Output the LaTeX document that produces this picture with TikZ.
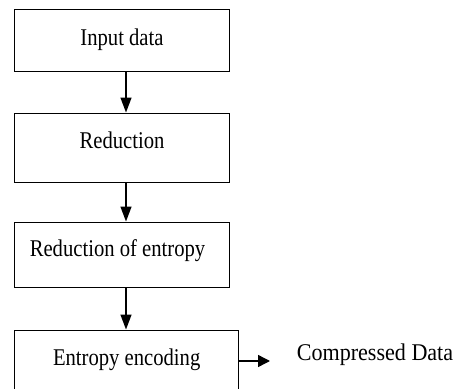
\documentclass[tikz,border=0pt]{standalone}
\usepackage{fontspec}
\setmainfont{Liberation Serif}
\usetikzlibrary{arrows.meta}
\begin{document}
\begin{tikzpicture}[x=1pt,y=-1pt,
  box/.style={draw=black, line width=1pt, inner sep=0pt},
  lbl/.style={anchor=base, inner sep=0pt, font=\fontsize{24}{28}\selectfont},
  arr/.style={line width=1.4pt, -{Triangle[length=15pt,width=11pt]}},
  harr/.style={line width=1.4pt, -{Triangle[length=12pt,width=12pt]}}]
\useasboundingbox (0,0) rectangle (459,389);
\clip (0,0) rectangle (459,389);
\node[box, minimum width=214.5pt, minimum height=62pt] (b1) at (121.75,40.5) {};
\node[box, minimum width=214.5pt, minimum height=69pt] (b2) at (121.75,147.5) {};
\node[box, minimum width=214.5pt, minimum height=65pt] (b3) at (121.75,254.5) {};
\node[box, minimum width=223.5pt, minimum height=70pt] (b4) at (126.25,365) {};
\node[lbl] (t1) at (122,45) {\scalebox{0.86}[1]{Input data}};
\node[lbl] (t2) at (122,148.3) {\scalebox{0.86}[1]{Reduction}};
\node[lbl] (t3) at (117.5,256.7) {\scalebox{0.86}[1]{Reduction of entropy}};
\node[lbl] (t4) at (126.7,365) {\scalebox{0.86}[1]{Entropy encoding}};
\node[lbl] (out) at (375,360) {\scalebox{0.92}[1]{Compressed Data}};
\coordinate (ax) at (126,0);
\coordinate (ce) at (270,361);
\draw[arr] (b1.south -| ax) -- (b2.north -| ax);
\draw[arr] (b2.south -| ax) -- (b3.north -| ax);
\draw[arr] (b3.south -| ax) -- (b4.north -| ax);
\draw[harr] (b4.east |- ce) -- (ce);
\end{tikzpicture}
\end{document}
